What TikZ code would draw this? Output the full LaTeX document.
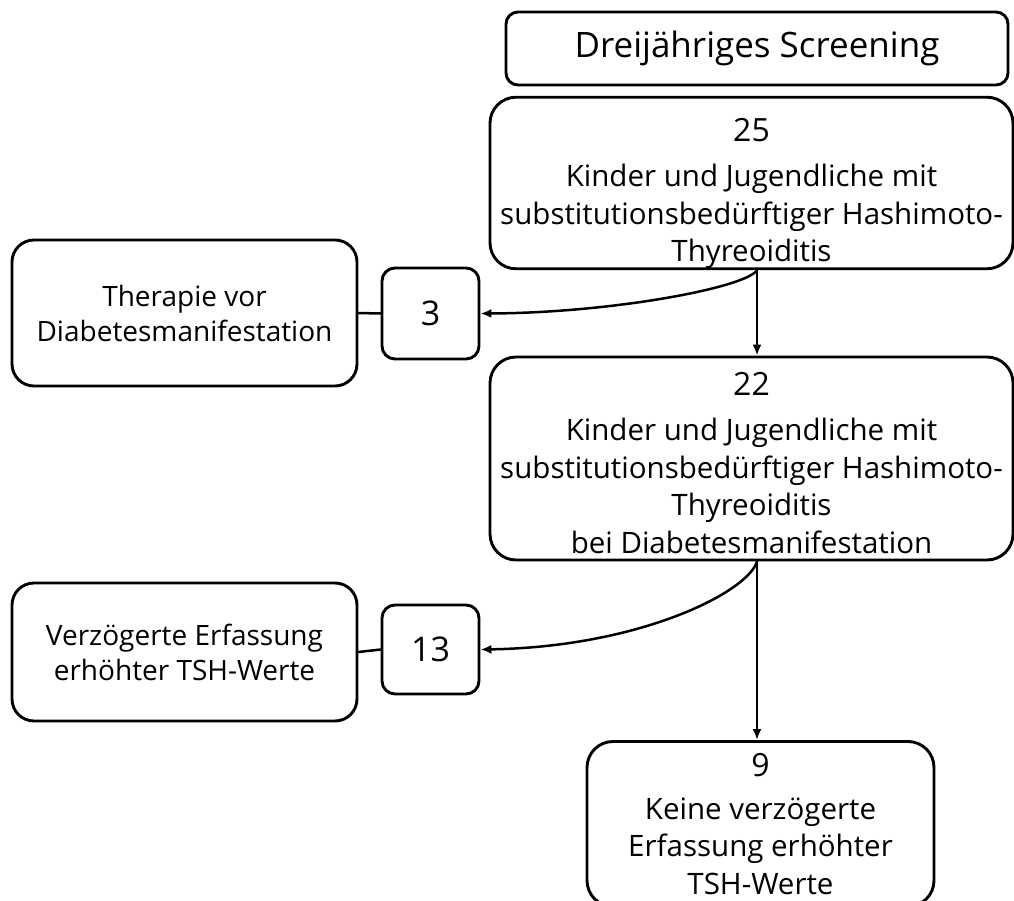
\documentclass[tikz,border=0pt]{standalone}
\usepackage{fontspec}
\setmainfont{Open Sans}
\usetikzlibrary{arrows.meta}
\begin{document}
\begin{tikzpicture}[x=1pt, y=-1pt, line join=round, line cap=round, >={Latex[length=11pt,width=9pt]},
	box/.style={draw, line width=2.9pt, rounded corners=#1, align=center, inner sep=0pt},
	box/.default=22pt,
	big/.style={font=\fontsize{29.5}{37.5}\selectfont},
	small/.style={font=\fontsize{28}{35}\selectfont},
	num/.style={font=\fontsize{34}{40}\selectfont},
	link/.style={line width=2.5pt}]
	\clip (0,0) rectangle (1014,901);
	\node[box=12pt, minimum width=502pt, minimum height=73pt, font=\fontsize{35}{40}\selectfont] (screen) at (757,48.5) {Dreijähriges Screening};
	\node[box=26pt, big, minimum width=523pt, minimum height=170pt] (n25) at (751.5,183) {{\fontsize{32}{40}\selectfont\rule{0pt}{44pt}25}\\[8pt]Kinder und Jugendliche mit\\substitutionsbedürftiger Hashimoto-\\Thyreoiditis};
	\node[box=26pt, big, minimum width=523pt, minimum height=203pt] (n22) at (751.5,458.5) {{\fontsize{32}{40}\selectfont\rule{0pt}{32pt}22}\\[8pt]Kinder und Jugendliche mit\\substitutionsbedürftiger Hashimoto-\\Thyreoiditis\\bei Diabetesmanifestation};
	\node[box, small, minimum width=345pt, minimum height=146pt] (ther) at (184.5,313) {Therapie vor\\Diabetesmanifestation};
	\node[box=13pt, num, minimum width=97pt, minimum height=91pt] (n3) at (430.5,313.5) {3};
	\node[box, small, minimum width=345pt, minimum height=138pt] (verz) at (184.5,652) {Verzögerte Erfassung\\erhöhter TSH-Werte};
	\node[box=13pt, num, minimum width=97pt, minimum height=89pt] (n13) at (430.5,649.5) {13};
	\node[box=26pt, big, minimum width=347pt, minimum height=165pt] (n9) at (760.5,824) {{\fontsize{32}{40}\selectfont 9}\\[5pt]Keine verzögerte\\Erfassung erhöhter\\TSH-Werte};
	\coordinate (s1) at ([xshift=5.5pt]n25.south);
	\coordinate (s2) at ([xshift=5.5pt]n22.south);
	\draw[link] (ther.east) -- (n3.west);
	\draw[link] (verz.east) -- (n13.west);
	\draw[link,->] (s1) -- (s1 |- n22.north);
	\draw[link,->] (s1) .. controls (745,288) and (610,313) .. (n3.east);
	\draw[link,->] (s2) -- (s2 |- n9.north);
	\draw[link,->] (s2) .. controls (748,592) and (640,647) .. (n13.east);
\end{tikzpicture}
\end{document}
